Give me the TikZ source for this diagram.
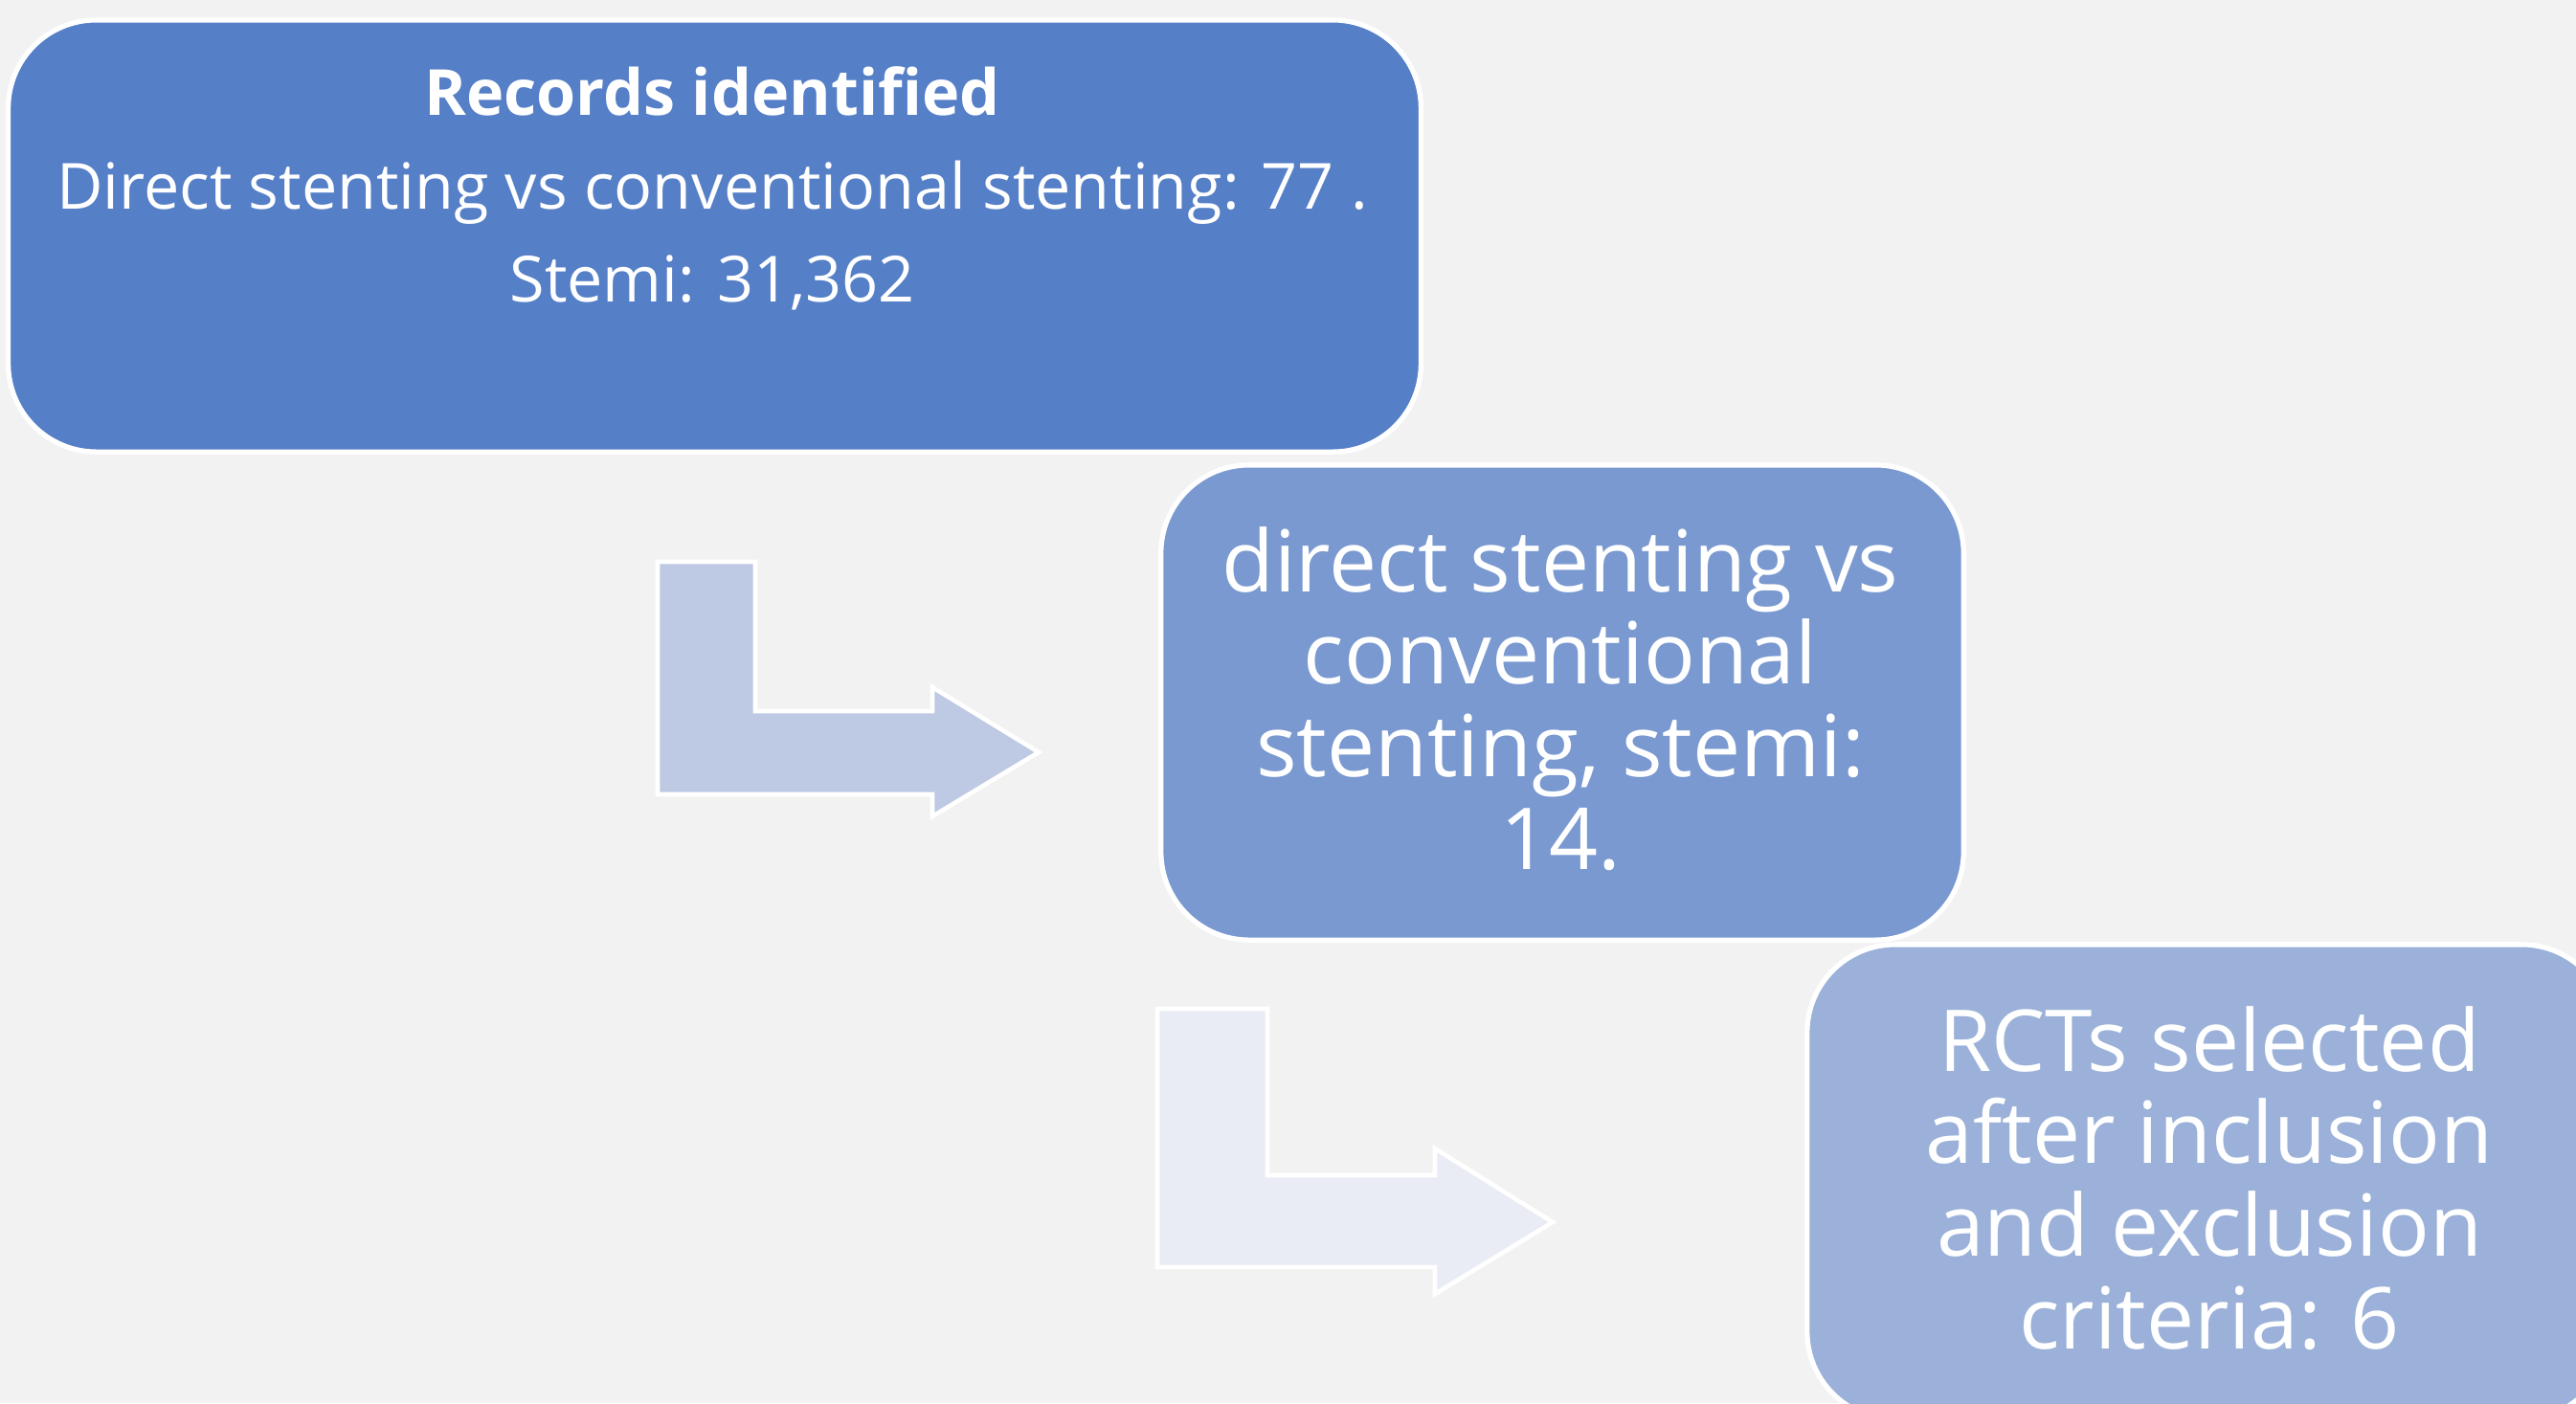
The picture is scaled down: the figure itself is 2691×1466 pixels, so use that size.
\documentclass[tikz,border=0pt]{standalone}
\usepackage{fontspec}
\setmainfont{Open Sans}
\definecolor{bg}{HTML}{F2F2F2}
\definecolor{cone}{HTML}{557FC7}
\definecolor{ctwo}{HTML}{7A99D0}
\definecolor{cthree}{HTML}{9BB1D9}
\definecolor{arrA}{HTML}{BEC9E3}
\definecolor{arrB}{HTML}{E9ECF5}
\tikzset{
  box/.style={draw=white, line width=1.5pt, rounded corners=0.92cm, inner sep=0pt},
  bigtext/.style={text=white, align=center, font=\fontsize{25.4}{27.5}\selectfont},
  smalltext/.style={text=white, align=center, font=\fontsize{18.9}{27.8}\selectfont},
  bent/.style={draw=white, line width=1.3pt, line join=miter}
}
\begin{document}
\begin{tikzpicture}[x=0.01cm, y=-0.01cm]
\fill[bg] (0,0) rectangle (2691,1466);
\useasboundingbox (0,0) rectangle (2691,1466);
\clip (0,0) rectangle (2691,1466);
% boxes
\node[box, fill=cone, minimum width=14.75cm, minimum height=4.51cm] (b1) at (746.5,246.5) {};
\node[box, fill=ctwo, minimum width=8.38cm, minimum height=4.96cm] (b2) at (1632,734) {};
\node[box, fill=cthree, minimum width=8.38cm, minimum height=4.96cm] (b3) at (2307,1235) {};
% texts
\node[smalltext] (t1) at (744,197) {\textbf{Records identified}\\Direct stenting vs conventional stenting: 77 .\\Stemi: 31,362};
\node[bigtext] (t2) at (1630,730) {direct stenting vs\\conventional\\stenting, stemi:\\14.};
\node[bigtext] (t3) at (2308,1231) {RCTs selected\\after inclusion\\and exclusion\\criteria: 6};
% bent arrows
\path[bent, fill=arrA] (687,587) -- (789,587) -- (789,743) -- (974,743) -- (974,718) -- (1085,786) -- (974,853) -- (974,830) -- (687,830) -- cycle;
\path[bent, fill=arrB] (1209,1054) -- (1324,1054) -- (1324,1228) -- (1499,1228) -- (1499,1200) -- (1622,1277) -- (1499,1352) -- (1499,1324) -- (1209,1324) -- cycle;
\end{tikzpicture}
\end{document}
